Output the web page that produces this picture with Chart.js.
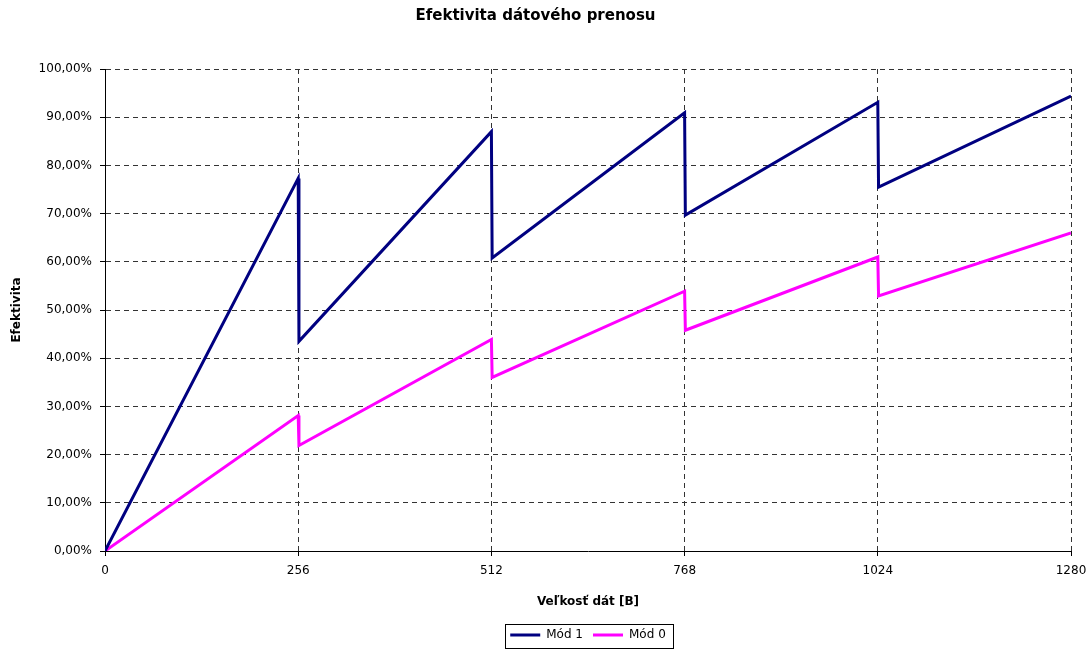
<!DOCTYPE html>
<html>
<head>
<title>Efektivita dátového prenosu</title>
<script src="https://cdn.jsdelivr.net/npm/chart.js"></script>
<style>
  body { margin: 0; background: #fff; }
  #wrap { width: 1091px; height: 651px; }
</style>
</head>
<body>
<div id="wrap"><canvas id="myChart"></canvas></div>
<script>
// data (x = size in bytes, y = efficiency in %)
const xTicks = [0, 256, 512, 768, 1024, 1280];
const mod1X = [0, 256, 257, 512, 513, 768, 769, 1024, 1025, 1280];
const mod1Y = [0, 77.3, 43.5, 87.0, 60.8, 90.9, 69.7, 93.1, 75.5, 94.4];
const mod0X = [0, 256, 257, 512, 513, 768, 769, 1024, 1025, 1280];
const mod0Y = [0, 28.1, 21.9, 43.9, 36.0, 53.9, 45.8, 61.0, 52.9, 66.0];

function toPoints(xs, ys) {
  return xs.map((x, i) => ({ x: x, y: ys[i] }));
}

// thin frame round the legend, like the original
const legendBox = {
  id: 'legendBox',
  afterDraw(chart) {
    const boxes = chart.legend.legendHitBoxes;
    if (!boxes || !boxes.length) return;
    let l = Infinity, r = -Infinity, t = Infinity, b = -Infinity;
    boxes.forEach(h => {
      l = Math.min(l, h.left); r = Math.max(r, h.left + h.width);
      t = Math.min(t, h.top); b = Math.max(b, h.top + h.height);
    });
    const cy = (t + b) / 2;
    const ctx = chart.ctx;
    ctx.save();
    ctx.strokeStyle = '#000';
    ctx.lineWidth = 1;
    ctx.strokeRect(Math.round(l - 5) + 0.5, Math.round(cy - 11) + 0.5, Math.round(r - l + 12), 24);
    ctx.restore();
  }
};

Chart.defaults.font.family = 'DejaVu Sans, sans-serif';
Chart.defaults.color = '#000';

new Chart(document.getElementById('myChart'), {
  type: 'line',
  data: {
    datasets: [
      { label: 'Mód 1', data: toPoints(mod1X, mod1Y), borderColor: '#000080', backgroundColor: '#000080', borderWidth: 3, pointRadius: 0, tension: 0, fill: false },
      { label: 'Mód 0', data: toPoints(mod0X, mod0Y), borderColor: '#ff00ff', backgroundColor: '#ff00ff', borderWidth: 3, pointRadius: 0, tension: 0, fill: false }
    ]
  },
  options: {
    responsive: true,
    maintainAspectRatio: false,
    animation: false,
    layout: { padding: { left: 0, right: 20, top: 0, bottom: 0 } },
    plugins: {
      title: {
        display: true,
        text: 'Efektivita dátového prenosu',
        font: { size: 15, weight: 'bold' },
        padding: { top: 7, bottom: 44 }
      },
      legend: {
        position: 'bottom',
        fullSize: false,
        labels: {
          boxWidth: 30, boxHeight: 3, font: { size: 12 }, padding: 10,
          generateLabels: chart => Chart.defaults.plugins.legend.labels.generateLabels(chart)
            .map(item => Object.assign(item, { lineWidth: 0 }))
        }
      },
      tooltip: { enabled: false }
    },
    scales: {
      x: {
        type: 'linear',
        min: 0, max: 1280,
        afterBuildTicks: axis => { axis.ticks = xTicks.map(v => ({ value: v })); },
        afterFit: axis => { axis.height = 68; axis.paddingLeft = 0; axis.paddingRight = 0; },
        ticks: { font: { size: 12 }, padding: 8, maxRotation: 0, callback: v => String(v) },
        grid: { color: '#333', tickColor: '#000', tickLength: 5 },
        border: { color: '#000', width: 1, dash: [5, 4] },
        title: { display: true, text: 'Veľkosť dát [B]', font: { size: 12, weight: 'bold' }, padding: { top: 4, bottom: 10 } }
      },
      y: {
        min: 0, max: 100,
        afterFit: axis => { axis.width = 105; },
        ticks: { stepSize: 10, font: { size: 12 }, padding: 8,
          callback: v => v.toFixed(2).replace('.', ',') + '%' },
        grid: { color: '#333', tickColor: '#000', tickLength: 5 },
        border: { color: '#000', width: 1, dash: [5, 4] },
        title: { display: true, text: 'Efektivita', font: { size: 12, weight: 'bold' }, padding: { top: 10, bottom: 0 } }
      }
    }
  },
  plugins: [legendBox]
});
</script>
</body>
</html>
